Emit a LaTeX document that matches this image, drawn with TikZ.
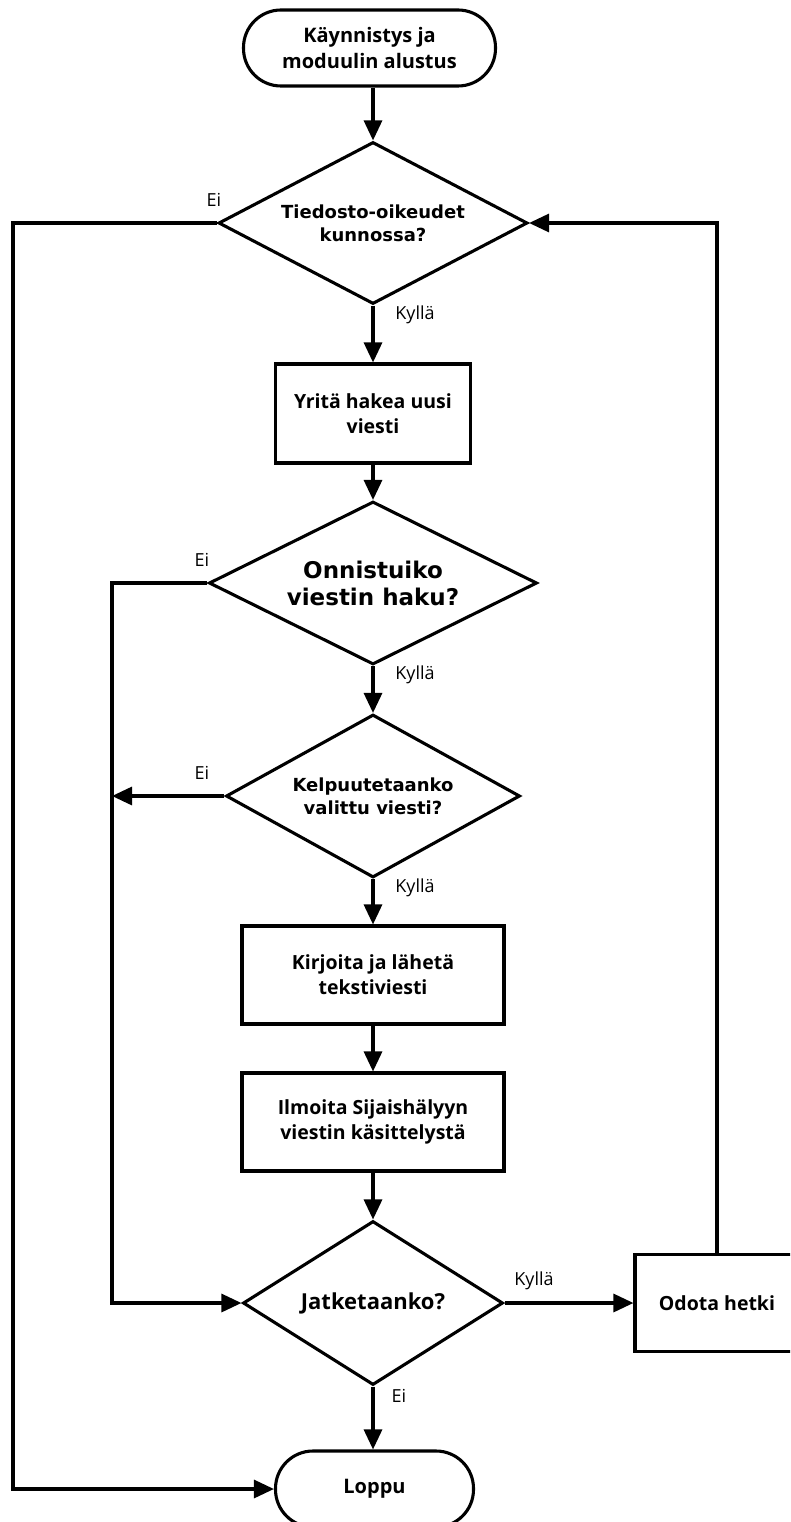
\documentclass[tikz,border=0pt]{standalone}
\usepackage{fontspec}
\setmainfont{Open Sans}
\newfontfamily\dvsans{DejaVu Sans}
\usetikzlibrary{shapes.geometric,arrows.meta}

\tikzset{
  base/.style={draw, line width=3.1pt, inner sep=0pt, align=center, fill=white},
  term/.style={base, rectangle, rounded corners=37.5pt, font=\bfseries\fontsize{20}{26}\selectfont},
  proc/.style={base, rectangle, font=\bfseries\fontsize{19.5}{25}\selectfont},
  decide/.style={base, diamond, font=\dvsans\bfseries\fontsize{18}{23}\selectfont},
  lbl/.style={font=\fontsize{18}{20}\selectfont, inner sep=0pt},
  flow/.style={line width=3.1pt, -{Triangle[length=20pt,width=18pt]}},
}

\begin{document}
\begin{tikzpicture}[x=1pt,y=-1pt]
  \clip (0,0) rectangle (790,1522);
  \fill[white] (0,0) rectangle (790,1522);

  % main column
  \node[term, minimum width=252pt, minimum height=76pt] (start) at (369.5,48)
    {Käynnistys ja\\moduulin alustus};
  \node[decide, aspect=1.907, minimum width=309pt, minimum height=162pt] (perm) at (373,223)
    {Tiedosto-oikeudet\\kunnossa?};
  \node[proc, minimum width=195pt, minimum height=99pt] (fetch) at (373,413.5)
    {Yritä hakea uusi\\viesti};
  \node[decide, aspect=2.01, minimum width=328pt, minimum height=163pt,
        font=\dvsans\bfseries\fontsize{23}{27}\selectfont] (ok) at (373,583)
    {Onnistuiko\\viestin haku?};
  \node[decide, aspect=1.8, minimum width=294pt, minimum height=163pt] (accept) at (373,796)
    {Kelpuutetaanko\\valittu viesti?};
  \node[proc, minimum width=262pt, minimum height=98pt] (send) at (373,975)
    {Kirjoita ja lähetä\\tekstiviesti};
  \node[proc, minimum width=262pt, minimum height=98pt] (notify) at (373,1122)
    {Ilmoita Sijaishälyyn\\viestin käsittelystä};
  \node[base, diamond, aspect=1.585, minimum width=260pt, minimum height=164pt,
        font=\bfseries\fontsize{22}{26}\selectfont] (cont) at (373,1303)
    {Jatketaanko?};
  \node[proc, minimum width=164pt, minimum height=97pt] (wait) at (717,1303)
    {Odota hetki};
  \node[term, minimum width=198pt, minimum height=76pt] (stop) at (374.5,1489)
    {Loppu};

  % branch points on the left rails
  \coordinate (railA) at (13,223);
  \coordinate (railB) at (112,583);
  \coordinate (railC) at (112,796);

  % straight flow
  \draw[flow] (start.south -| perm.north) -- (perm.north);
  \draw[flow] (perm) -- (fetch);
  \draw[flow] (fetch) -- (ok);
  \draw[flow] (ok) -- (accept);
  \draw[flow] (accept) -- (send);
  \draw[flow] (send) -- (notify);
  \draw[flow] (notify) -- (cont);
  \draw[flow] (cont.south) -- (cont.south |- stop.north);
  \draw[flow] (cont.east) -- (wait.west);

  % loops and exits
  \draw[flow] (wait.north) |- (perm.east);
  \draw[flow] (perm.west) -- (railA) |- (stop.west);
  \draw[flow] (ok.west) -- (railB) |- (cont.west);
  \draw[flow] (accept.west) -- (railC);

  % branch labels
  \node[lbl] (l1) at (214,200) {Ei};
  \node[lbl] (l2) at (415,315) {Kyllä};
  \node[lbl] (l3) at (202,560) {Ei};
  \node[lbl] (l4) at (415,675) {Kyllä};
  \node[lbl] (l5) at (202,773) {Ei};
  \node[lbl] (l6) at (415,888) {Kyllä};
  \node[lbl] (l7) at (534,1281) {Kyllä};
  \node[lbl] (l8) at (399,1396) {Ei};
\end{tikzpicture}
\end{document}
